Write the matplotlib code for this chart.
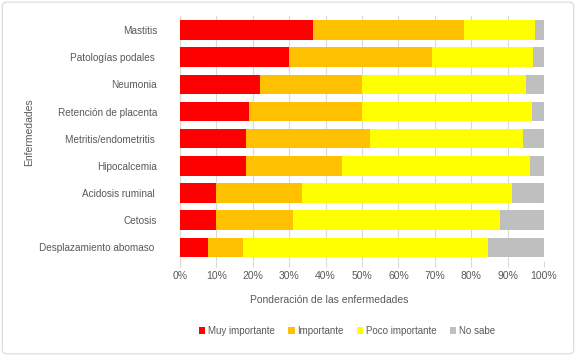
import numpy as np
import matplotlib.pyplot as plt
from matplotlib.patches import FancyBboxPatch
from matplotlib.ticker import PercentFormatter

plt.rcParams['font.family'] = ['Liberation Sans', 'DejaVu Sans']

enfermedades = ["Mastitis", "Patologías podales ", "Neumonia", "Retención de placenta",
                "Metritis/endometritis ", "Hipocalcemia", "Acidosis ruminal ", "Cetosis",
                "Desplazamiento abomaso "]
muy_importante = [36.6, 30.0, 22.1, 19.0, 18.2, 18.2, 9.9, 9.9, 7.8]
importante = [41.3, 39.2, 28.0, 30.9, 34.1, 26.4, 23.5, 21.1, 9.6]
poco_importante = [19.6, 27.7, 45.0, 46.7, 41.9, 51.6, 57.8, 56.9, 67.2]
no_sabe = [2.5, 3.1, 4.9, 3.4, 5.8, 3.8, 8.8, 12.1, 15.4]

series = [("Muy importante", muy_importante, "#FF0000"),
          ("Importante", importante, "#FFC000"),
          ("Poco importante", poco_importante, "#FFFF00"),
          ("No sabe", no_sabe, "#BFBFBF")]

txt = "#595959"

fig = plt.figure(figsize=(5.76, 3.56), dpi=100)
ax = fig.add_axes([180/576, 1 - 261/356, 364/576, 244.6/356])

y = np.arange(len(enfermedades))
left = np.zeros(len(enfermedades))
for name, vals, col in series:
    vals = np.array(vals)
    ax.barh(y, vals, left=left, height=0.72, color=col, label=name, zorder=3)
    left += vals

ax.set_xlim(0, 100)
ax.set_ylim(len(enfermedades) - 0.5, -0.5)
ax.set_yticks(y)
ax.set_yticklabels(enfermedades)
ax.set_xticks(np.arange(0, 101, 10))
ax.xaxis.set_major_formatter(PercentFormatter(decimals=0))
ax.grid(axis='x', color="#D9D9D9", linewidth=0.8, zorder=0)
for s in ["top", "right", "bottom"]:
    ax.spines[s].set_visible(False)
ax.spines["left"].set_color("#D9D9D9")
ax.tick_params(axis='y', length=0, pad=16.5, labelsize=7.2, labelcolor=txt)
ax.tick_params(axis='x', length=4, color="#D9D9D9", pad=3, labelsize=7.5, labelcolor=txt)

ax.set_xlabel("Ponderación de las enfermedades", fontsize=7.5, color=txt)
ax.xaxis.set_label_coords(0.409, -0.14)
fig.text(29/576, 1 - 132/356, "Enfermedades", rotation=90, ha='center', va='center',
         fontsize=7.5, color=txt)

leg = fig.legend(loc='center', bbox_to_anchor=(347/576, 1 - 331/356), ncol=4, frameon=False,
                 fontsize=7, handlelength=0.7, handleheight=0.7, handletextpad=0.3,
                 columnspacing=1.3)
for t in leg.get_texts():
    t.set_color(txt)

border = FancyBboxPatch((0.004, 0.006), 0.992, 0.988, boxstyle="round,pad=0,rounding_size=0.01",
                        transform=fig.transFigure, fill=False, edgecolor="#D9D9D9", linewidth=0.8)
fig.patches.append(border)

fig.savefig("out.png", dpi=100)
